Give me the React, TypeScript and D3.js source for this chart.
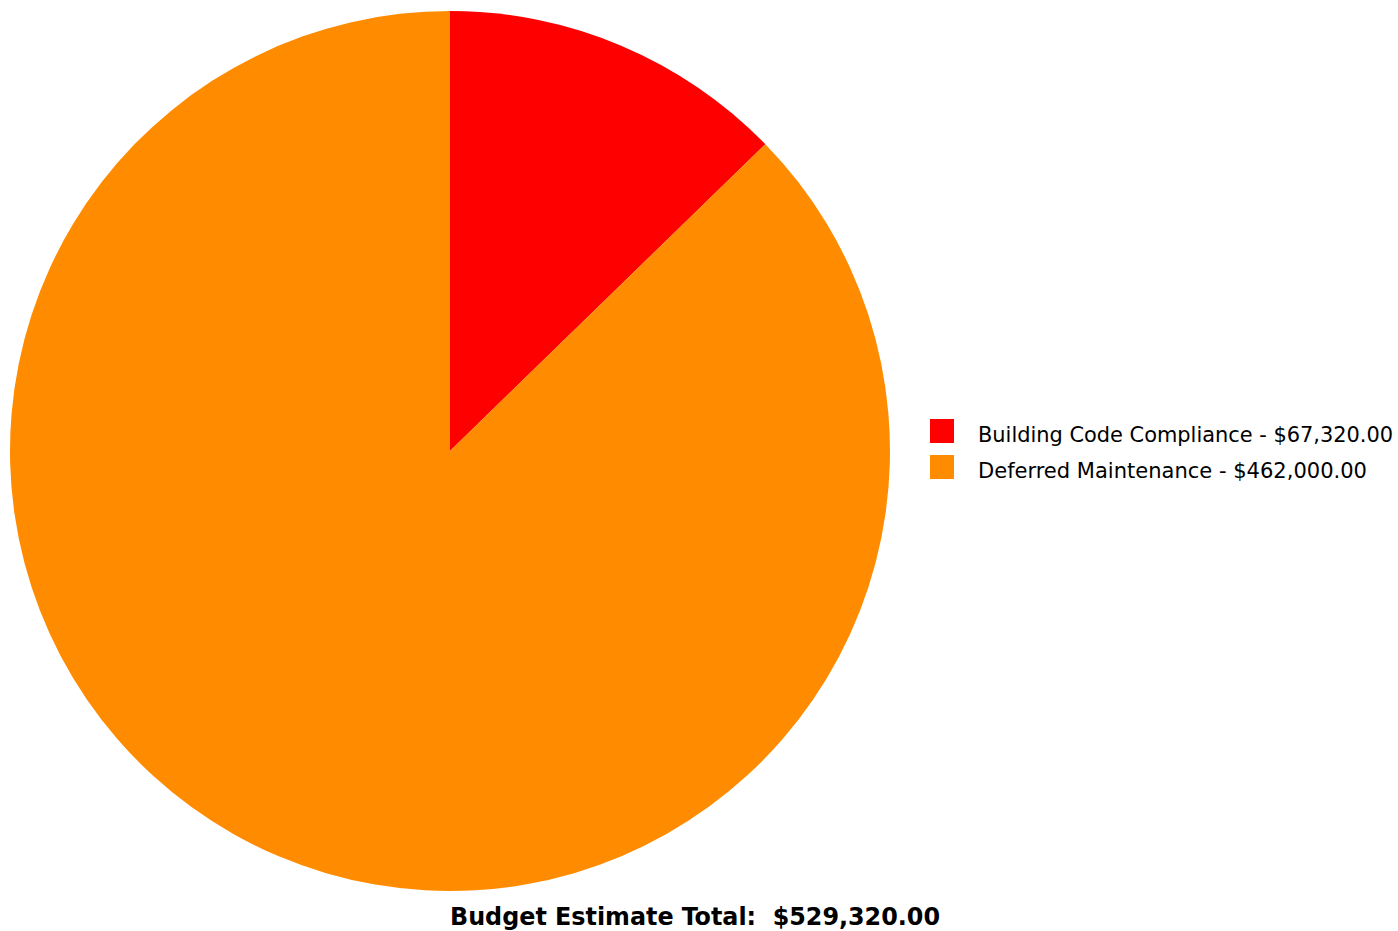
import React from "react";
import * as d3 from "d3";

const categories = ["Building Code Compliance", "Deferred Maintenance"];
const values = [67320, 462000];
const colors = ["#FF0000", "#FF8C00"];
const titleLabel = "Budget Estimate Total:";

const fmt = (v: number) => "$" + d3.format(",.2f")(v);

export default function App() {
  const W = 1398, H = 931;
  const cx = 450, cy = 451, r = 440;
  const data = categories.map((c, i) => ({ c, v: values[i], color: colors[i] }));
  const pie = d3.pie<any>().value((d) => d.v).sort(null);
  const arc = d3.arc<any>().innerRadius(0).outerRadius(r);
  const arcs = pie(data);
  const total = d3.sum(values);
  const font = "'DejaVu Sans Condensed', Tahoma, Verdana, 'DejaVu Sans', sans-serif";
  return (
    <svg width={W} height={H} style={{ position: "absolute", left: 0, top: 0, background: "#fff" }}>
      <g transform={`translate(${cx},${cy})`}>
        {arcs.map((a, i) => (
          <path key={i} d={arc(a) as string} fill={a.data.color} />
        ))}
      </g>
      {data.map((d, i) => (
        <g key={i} transform={`translate(930,${419 + i * 36})`}>
          <rect width={24} height={24} fill={d.color} />
          <text x={48} y={23} fontFamily={font} fontSize={22} textLength={i === 0 ? 415 : 389} lengthAdjust="spacingAndGlyphs" fill="#000">
            {`${d.c} - ${fmt(d.v)}`}
          </text>
        </g>
      ))}
      <text x={450} y={925} fontFamily={font} fontSize={25} fontWeight="bold" textLength={490} lengthAdjust="spacingAndGlyphs" style={{ whiteSpace: "pre" }} fill="#000">
        {`${titleLabel}  ${fmt(total)}`}
      </text>
    </svg>
  );
}
